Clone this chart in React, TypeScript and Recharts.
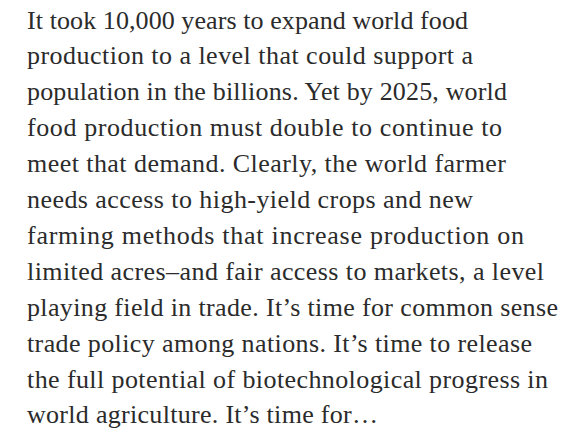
import React from "react";
import { Surface } from "recharts";

const paragraphLines: string[] = [
  "It took 10,000 years to expand world food",
  "production to a level that could support a",
  "population in the billions. Yet by 2025, world",
  "food production must double to continue to",
  "meet that demand. Clearly, the world farmer",
  "needs access to high-yield crops and new",
  "farming methods that increase production on",
  "limited acres\u2013and fair access to markets, a level",
  "playing field in trade. It\u2019s time for common sense",
  "trade policy among nations. It\u2019s time to release",
  "the full potential of biotechnological progress in",
  "world agriculture. It\u2019s time for\u2026",
];

// measured rendered width of each typeset line (layout, px)
const lineWidths: number[] = [441, 446, 480, 475, 479, 446, 497, 517, 531, 505, 521, 351];

const W = 576;
const H = 433;
const LEFT = 27;
const FIRST_BASELINE = 28.5;
const LINE_GAP = 35.9;

export default function App() {
  return (
    <div style={{ position: "absolute", left: 0, top: 0, width: W, height: H, background: "#ffffff" }}>
      <Surface width={W} height={H}>
        {paragraphLines.map((line, i) => (
          <text
            key={i}
            x={LEFT}
            y={FIRST_BASELINE + i * LINE_GAP}
            fontFamily="'Liberation Serif', 'DejaVu Serif', serif"
            fontSize={26}
            fill="#2b2b2b"
            textLength={lineWidths[i]}
            lengthAdjust="spacing"
          >
            {line}
          </text>
        ))}
      </Surface>
    </div>
  );
}
